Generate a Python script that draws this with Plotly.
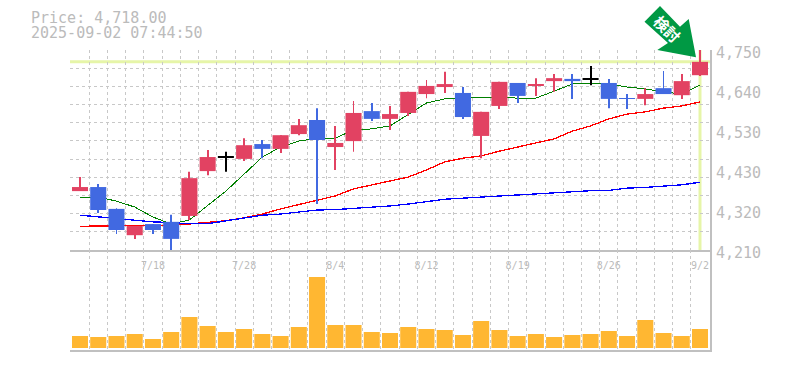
import plotly.graph_objects as go

dates = ["7/14","7/15","7/16","7/17","7/18","7/22","7/23","7/24","7/25","7/28","7/29","7/30","7/31","8/1","8/4",
         "8/5","8/6","8/7","8/8","8/12","8/13","8/14","8/15","8/18","8/19","8/20","8/21","8/22","8/25","8/26",
         "8/27","8/28","8/29","9/1","9/2"]
labelled = ["7/18","7/28","8/4","8/12","8/19","8/26","9/2"]
opens = [4369,4380,4321,4250,4280,4286,4302,4423,4460,4456,4496,4483,4523,4561,4488,4504,4585,4564,4580,4631,4650,4634,4518,4599,
         4661,4653,4666,4672,4671,4661,4620,4618,4647,4628,4682]
closes = [4380,4318,4264,4275,4264,4240,4404,4461,4460,4493,4483,4520,4547,4507,4499,4580,4564,4577,4637,4653,4658,4569,4583,4664,
          4626,4658,4674,4666,4671,4618,4618,4631,4631,4666,4718]
highs = [4407,4388,4323,4275,4280,4305,4421,4480,4475,4512,4507,4520,4564,4593,4545,4612,4607,4599,4637,4669,4691,4650,4583,4664,
         4661,4674,4685,4685,4707,4672,4631,4647,4693,4685,4750]
lows = [4369,4310,4253,4240,4253,4210,4291,4412,4421,4450,4458,4472,4520,4334,4426,4475,4558,4534,4572,4620,4634,4564,4458,4591,
        4607,4626,4637,4618,4655,4593,4591,4601,4631,4618,4680]
ma_short = [4352,4353,4342,4326,4299,4280,4291,4331,4369,4415,4461,4488,4504,4512,4512,4534,4537,4545,4575,4607,4618,4620,4620,4623,
            4620,4620,4639,4658,4661,4658,4650,4645,4637,4631,4655]
ma_mid = [4274,4275,4277,4277,4277,4276,4280,4284,4289,4297,4307,4321,4332,4345,4356,4375,4385,4396,4407,4426,4448,4458,4464,4477,
          4489,4499,4510,4531,4545,4564,4577,4583,4593,4599,4610]
ma_long = [4304,4299,4294,4289,4286,4284,4281,4281,4289,4298,4304,4307,4312,4318,4319,4322,4326,4329,4334,4340,4347,4350,4353,4356,
           4358,4360,4363,4366,4370,4371,4377,4379,4382,4386,4393]
volumes = [12,11,12,14,9,16,31,22,16,19,14,12,21,71,23,23,16,15,21,19,18,13,27,18,12,14,11,13,14,17,12,28,15,12,19]
price_ticks = [4750,4642,4534,4426,4318,4210]
price_labels = ["4,750","4,640","4,530","4,430","4,320","4,210"]
last_price = 4718
price_text = "Price: 4,718.00"
time_text = "2025-09-02 07:44:50"

RED, BLUE, BLACK = "#e24262", "#4169e1", "#000000"
GRID, AXIS, TXT = "#c8c8c8", "#c0c0c0", "#bbbbbb"
MONO = "DejaVu Sans Mono"
W, H = 785, 370
L, R, T, B = 70, 710, 50, 350
YMIN, YMAX = 4210, 4750

fig = go.Figure()
for series, col, lw in [(ma_short, "#008000", 1), (ma_mid, "#ff0000", 1.3), (ma_long, "#0000ff", 1.3)]:
    fig.add_trace(go.Scatter(x=dates, y=series, mode="lines", line=dict(color=col, width=lw),
                             xaxis="x", yaxis="y", showlegend=False))

def kind(o, c):
    return RED if c > o else BLUE if c < o else BLACK

for col in (RED, BLUE, BLACK):
    idx = [i for i in range(len(dates)) if kind(opens[i], closes[i]) == col]
    xs = [dates[i] for i in idx]
    fig.add_trace(go.Bar(x=xs, base=[lows[i] for i in idx], y=[highs[i] - lows[i] for i in idx], width=0.05,
                         marker=dict(color=col, line=dict(width=0)), xaxis="x", yaxis="y3", showlegend=False))
    if col == BLACK:
        fig.add_trace(go.Bar(x=xs, base=[opens[i] - 1.35 for i in idx], y=[2.7 for i in idx], width=0.88,
                             marker=dict(color=col, line=dict(width=0)), xaxis="x", yaxis="y3", showlegend=False))
    else:
        fig.add_trace(go.Bar(x=xs, base=[min(opens[i], closes[i]) for i in idx],
                             y=[abs(opens[i] - closes[i]) for i in idx], width=0.88,
                             marker=dict(color=col, line=dict(width=0)), xaxis="x", yaxis="y3", showlegend=False))

fig.add_trace(go.Bar(x=dates, y=volumes, width=0.88, marker=dict(color="#ffb732", line=dict(width=0)),
                     xaxis="x2", yaxis="y2", showlegend=False))

per = (R - L) / 35.097
xr = [-(80 - L) / per, -(80 - L) / per + 35.097]
tick_text = [d if d in labelled else "" for d in dates]
common_x = dict(type="category", categoryorder="array", categoryarray=dates, range=xr, tickmode="array",
                tickvals=dates, ticktext=tick_text, tickson="boundaries", tickangle=0, showgrid=True, gridcolor=GRID,
                griddash="3px,3px", gridwidth=1, ticks="", zeroline=False, showline=True, linecolor=AXIS, linewidth=2)
grid_vals = [YMIN + i * (YMAX - YMIN) / 11 for i in range(12)]

fig.update_layout(
    width=W, height=H, autosize=False, margin=dict(l=L, r=W - R, t=T, b=H - B, pad=0, autoexpand=False),
    paper_bgcolor="white", plot_bgcolor="white", barmode="overlay", showlegend=False,
    font=dict(family=MONO, color=TXT),
    xaxis=dict(common_x, anchor="y", domain=[0, 1], tickfont=dict(family=MONO, size=10, color=TXT), ticklabelstandoff=5),
    xaxis2=dict(common_x, anchor="y2", domain=[0, 1], matches="x", showticklabels=False),
    yaxis=dict(domain=[1 / 3, 1], range=[YMIN, YMAX], side="right", anchor="x", tickmode="array", tickvals=grid_vals,
               showticklabels=False, showgrid=True, gridcolor=GRID, griddash="3px,3px", gridwidth=1, zeroline=False,
               showline=True, linecolor=AXIS, linewidth=2, ticks=""),
    yaxis3=dict(domain=[1 / 3, 1], range=[YMIN, YMAX], overlaying="y", side="right", anchor="x", tickmode="array",
                tickvals=price_ticks, ticktext=price_labels, showgrid=False, zeroline=False, showline=False, ticks="",
                ticklabelstandoff=5, ticklabelshift=3, tickfont=dict(family=MONO, size=15, color=TXT)),
    yaxis2=dict(domain=[0, 1 / 3], range=[-2, 98], side="right", anchor="x2", showgrid=False, zeroline=False,
                showticklabels=False, showline=True, linecolor=AXIS, linewidth=2, ticks=""),
    annotations=[
        dict(text=price_text, xref="paper", yref="paper", x=-40 / (R - L), y=(B - 18) / (B - T), xanchor="left", yanchor="middle",
             height=14, borderpad=0, showarrow=False, font=dict(family=MONO, size=15, color=TXT)),
        dict(text=time_text, xref="paper", yref="paper", x=-40 / (R - L), y=(B - 33) / (B - T), xanchor="left", yanchor="middle",
             height=14, borderpad=0, showarrow=False, font=dict(family=MONO, size=15, color=TXT)),
        dict(text="<b>検討</b>", xref="paper", yref="paper", x=(667 - L) / (R - L), y=(B - 29) / (B - T), textangle=45,
             xanchor="center", yanchor="middle", showarrow=False, font=dict(family="Noto Sans CJK JP", size=15, color="#ffffff")),
    ],
    shapes=[
        dict(type="line", xref="paper", x0=0, x1=1, yref="y", y0=last_price, y1=last_price,
             line=dict(color="#e6f5a8", width=3), layer="below"),
        dict(type="line", xref="x", x0=dates[-1], x1=dates[-1], yref="y domain", y0=0, y1=1,
             line=dict(color="#e6f5a8", width=3), layer="below"),
        dict(type="path", xref="paper", yref="paper", fillcolor="#009944", line=dict(width=0), layer="above",
             path=" ".join(("M" if i == 0 else "L") + f"{(px - L) / (R - L):.5f},{(B - py) / (B - T):.5f}"
                           for i, (px, py) in enumerate([(660, 6), (644.5, 21.7), (668, 43), (657.3, 50), (696, 57.3),
                                                         (688.7, 19), (680, 26.7)])) + " Z"),
    ],
)
fig.write_html("out.html", config={"displayModeBar": False},
               post_script="document.body.style.margin='0';document.querySelectorAll('.js-line,.gridlayer path').forEach(function(e){e.style.shapeRendering='crispEdges';});")
